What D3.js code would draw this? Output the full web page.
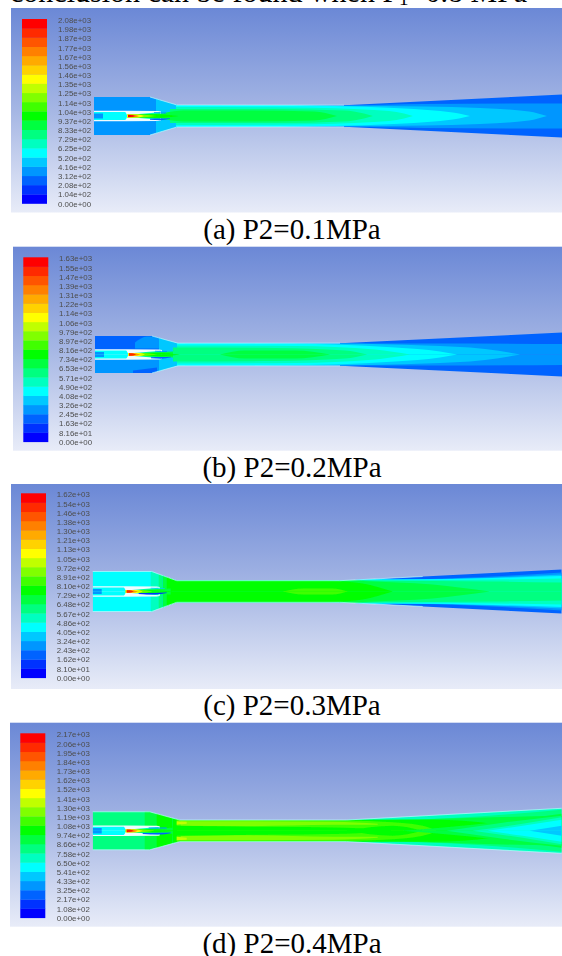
<!DOCTYPE html>
<html>
<head>
    <meta charset="utf-8">
    <title>P2 contours</title>
    <script src="https://d3js.org/d3.v7.min.js"></script>
    <style>
        html, body { margin: 0; padding: 0; background: #fff; overflow: hidden; }
        .caption { font-family: "Liberation Serif", serif; fill: #000; }
        .tick text { font-family: "Liberation Sans", sans-serif; fill: #4d4d4d; }
    </style>
</head>
<body>
    <div id="chart"></div>
    <script>
        // colour bands of the legend, bottom to top
        let bandColors = ["#0000ff", "#0030ff", "#0064ff", "#0096ff", "#00c8ff", "#00ffff", "#00ffc0", "#00ff80", "#00ff40", "#00ff00",
            "#40ff00", "#80ff00", "#c0ff00", "#ffff00", "#ffd200", "#ffaa00", "#ff8000", "#ff5500", "#ff2a00", "#ff0000"];

        let labelsA = ["2.08e+03", "1.98e+03", "1.87e+03", "1.77e+03", "1.67e+03", "1.56e+03", "1.46e+03", "1.35e+03", "1.25e+03", "1.14e+03", "1.04e+03", "9.37e+02", "8.33e+02", "7.29e+02", "6.25e+02", "5.20e+02", "4.16e+02", "3.12e+02", "2.08e+02", "1.04e+02", "0.00e+00"];
        let labelsB = ["1.63e+03", "1.55e+03", "1.47e+03", "1.39e+03", "1.31e+03", "1.22e+03", "1.14e+03", "1.06e+03", "9.79e+02", "8.97e+02", "8.16e+02", "7.34e+02", "6.53e+02", "5.71e+02", "4.90e+02", "4.08e+02", "3.26e+02", "2.45e+02", "1.63e+02", "8.16e+01", "0.00e+00"];
        let labelsC = ["1.62e+03", "1.54e+03", "1.46e+03", "1.38e+03", "1.30e+03", "1.21e+03", "1.13e+03", "1.05e+03", "9.72e+02", "8.91e+02", "8.10e+02", "7.29e+02", "6.48e+02", "5.67e+02", "4.86e+02", "4.05e+02", "3.24e+02", "2.43e+02", "1.62e+02", "8.10e+01", "0.00e+00"];
        let labelsD = ["2.17e+03", "2.06e+03", "1.95e+03", "1.84e+03", "1.73e+03", "1.62e+03", "1.52e+03", "1.41e+03", "1.30e+03", "1.19e+03", "1.08e+03", "9.74e+02", "8.66e+02", "7.58e+02", "6.50e+02", "5.41e+02", "4.33e+02", "3.25e+02", "2.17e+02", "1.08e+02", "0.00e+00"];

        let captions = ["(a) P2=0.1MPa", "(b) P2=0.2MPa", "(c) P2=0.3MPa", "(d) P2=0.4MPa"];

        // duct outline: [axial position, half height]
        let wallA = [[0, 19], [56, 19], [83, 11], [250, 10.8], [468, 21.5]];
        let wallB = [[0, 18.5], [57, 18.5], [83, 11.3], [245, 11.3], [467, 22]];
        let wallC = [[0, 20], [59, 20], [84, 10.8], [247, 10.8], [469, 22]];
        let wallD = [[0, 19], [57, 19], [87, 10.8], [254, 10.8], [469, 22.5]];

        // part of each wall that shows a bright edge
        let edgeA = [[56, 19], [83, 11], [250, 10.8]];
        let edgeB = [[57, 18.5], [83, 11.3], [245, 11.3]];
        let edgeC = [[0, 20], [59, 20], [84, 10.8], [247, 10.8], [330, 15]];
        let edgeD = wallD;

        // contour bands: c = legend band, side = 1 upper / -1 lower (both if missing),
        // pts = [axial position, outer radius, inner radius]
        let fieldA = [
            {c: 3, pts: [[0, 25], [66, 25]]},
            {c: 4, pts: [[62, 25], [90, 25]]},
            {c: 2, pts: [[82, 30], [468, 30]]},
            {c: 3, pts: [[82, 12], [250, 10.6], [330, 12], [468, 12.5]]},
            {c: 4, pts: [[82, 12], [250, 10.3], [330, 9.5], [386, 8], [435, 4.5], [453, 0]]},
            {c: 5, pts: [[82, 12], [240, 10], [300, 8], [340, 5.5], [365, 2.5], [376, 0]]},
            {c: 6, pts: [[82, 9], [200, 8.5], [280, 6], [310, 2.5], [319, 0]]},
            {c: 7, pts: [[76, 7], [180, 7], [250, 5.5], [270, 2.5], [279, 0]]},
            {c: 8, pts: [[70, 3], [90, 5.5], [150, 5.5], [220, 4.5], [243, 0]]}
        ];
        let fieldB = [
            {c: 2, side: 1, pts: [[0, 25], [66, 25]]},
            {c: 3, side: -1, pts: [[0, 25], [66, 25]]},
            {c: 2, side: -1, pts: [[38, 19, 16], [62, 19, 13]]},
            {c: 3, side: 1, pts: [[40, 12, 6], [52, 18, 6], [66, 18, 6]]},
            {c: 4, pts: [[64, 25], [92, 25]]},
            {c: 2, pts: [[90, 30], [467, 30]]},
            {c: 3, pts: [[90, 13], [250, 11], [330, 11], [467, 10.5]]},
            {c: 4, pts: [[90, 13], [245, 11], [330, 9], [390, 5.5], [425, 0]]},
            {c: 5, pts: [[82, 12], [240, 10], [300, 7], [345, 3], [362, 0]]},
            {c: 6, pts: [[82, 9], [200, 8.5], [280, 5], [315, 0]]},
            {c: 7, pts: [[78, 7], [180, 6.5], [250, 4], [272, 0]]},
            {c: 8, pts: [[125, 0], [150, 4], [200, 4], [235, 0]]}
        ];
        let fieldC = [
            {c: 5, pts: [[0, 25], [62, 25]]},
            {c: 6, pts: [[58, 25], [68, 25]]},
            {c: 7, pts: [[66, 25], [74, 25]]},
            {c: 2, pts: [[70, 30], [469, 30]]},
            {c: 3, pts: [[70, 30], [300, 12], [469, 19]]},
            {c: 4, pts: [[70, 30], [300, 12], [469, 17]]},
            {c: 5, pts: [[70, 30], [300, 12], [469, 15.5]]},
            {c: 6, pts: [[70, 30], [290, 11], [469, 13]]},
            {c: 7, pts: [[70, 30], [280, 11], [400, 10], [469, 9]]},
            {c: 8, pts: [[70, 30], [270, 10.5], [340, 7], [397, 0]]},
            {c: 9, pts: [[74, 30], [240, 10.8], [270, 8], [300, 0]]},
            {c: 10, pts: [[190, 0], [210, 3], [240, 3], [255, 0]]}
        ];
        let fieldD = [
            {c: 7, pts: [[0, 25], [58, 25]]},
            {c: 8, pts: [[52, 25], [70, 25]]},
            {c: 9, pts: [[64, 25], [84, 25]]},
            {c: 6, pts: [[80, 30], [469, 30]]},
            {c: 7, pts: [[80, 12], [300, 11], [469, 21]]},
            {c: 8, pts: [[80, 12], [300, 11], [400, 13.5], [469, 15]]},
            {c: 9, pts: [[80, 12], [270, 10.8], [340, 11], [400, 7], [425, 0]]},
            {c: 10, pts: [[84, 11], [260, 10], [290, 9], [330, 5], [345, 0]]},
            {c: 11, pts: [[88, 9.5, 5], [150, 9.5, 4.5], [240, 9, 6], [285, 7, 6]]},
            {c: 12, pts: [[84, 9.5, 6], [94, 9, 7]]},
            {c: 9, pts: [[80, 5], [170, 4], [254, 3], [300, 0]]},
            {c: 9, pts: [[254, 0], [300, 5], [330, 0]]},
            {c: 8, pts: [[310, 0], [380, 6], [469, 17]]},
            {c: 7, pts: [[354, 0], [410, 8], [469, 15]]},
            {c: 6, pts: [[380, 0], [430, 7], [469, 13.5]]},
            {c: 5, pts: [[395, 0], [430, 5], [469, 11]]},
            {c: 4, pts: [[437, 0], [469, 5]]}
        ];

        // primary nozzle and jet
        let nozzleA = [
            {c: 3, pts: [[0, 2.6], [9, 2.6]]},
            {c: 6, pts: [[33, 1], [66, 3.8]]},
            {c: 8, pts: [[34, 1], [78, 3]]},
            {c: 2, side: -1, pts: [[56, 3.8, 2.8], [66, 4.2, 2.6], [76, 2.8, 2.2]]},
            {c: 3, side: 1, pts: [[60, 3.8, 3], [72, 3.4, 2.6]]},
            {c: 9, pts: [[33, 1.3], [62, 1.8], [85, 0]]},
            {c: 11, pts: [[33, 1.4], [50, 1.2], [62, 0]]},
            {c: 13, pts: [[33, 1.6], [44, 1.4], [50, 0]]},
            {c: 16, pts: [[34, 1.6], [41, 1.1], [45, 0]]},
            {c: 19, pts: [[34, 1.1], [37, 1], [41, 0]]}
        ];
        let nozzleB = nozzleA.slice();
        let nozzleC = [
            {c: 3, pts: [[0, 2.6], [9, 2.6]]},
            {c: 6, pts: [[33, 1], [66, 3.8]]},
            {c: 8, pts: [[34, 1], [78, 3]]},
            {c: 1, side: -1, pts: [[46, 2.4, 1.6], [62, 3, 1.2], [74, 1.6, 1]]},
            {c: 4, side: 1, pts: [[58, 3.8, 3], [72, 3.4, 2.8]]},
            {c: 9, pts: [[33, 1.3], [60, 1.2], [80, 0]]},
            {c: 11, pts: [[33, 1.4], [50, 1.2], [60, 0]]},
            {c: 13, pts: [[33, 1.6], [44, 1.4], [50, 0]]},
            {c: 16, pts: [[34, 1.6], [41, 1.1], [45, 0]]},
            {c: 19, pts: [[34, 1.1], [37, 1], [41, 0]]}
        ];
        let nozzleD = [
            {c: 3, pts: [[0, 2.8], [9, 2.8]]},
            {c: 6, pts: [[33, 1], [66, 3.8]]},
            {c: 8, pts: [[34, 1], [80, 3]]},
            {c: 2, side: -1, pts: [[50, 3.2, 2.2], [66, 3.8, 2], [78, 2.4, 1.6]]},
            {c: 3, side: 1, pts: [[56, 3.4, 2.4], [74, 3.4, 2.4]]},
            {c: 9, pts: [[33, 1.3], [60, 1.5], [84, 0]]},
            {c: 11, pts: [[33, 1.4], [50, 1.2], [62, 0]]},
            {c: 13, pts: [[33, 1.6], [44, 1.4], [50, 0]]},
            {c: 16, pts: [[34, 1.6], [41, 1.1], [45, 0]]},
            {c: 19, pts: [[34, 1.1], [37, 1], [41, 0]]}
        ];
        let nozzleWall = [[0, 5.2], [64, 5], [67, 4.6]];
        let nozzleBore = [[0, 4.1], [31, 4.1], [33, 1]];

        // where each panel sits on the page
        let panels = [
            {x: 11, y: 8, h: 204.5, legendX: 22, legendY: 19, labelX: 58, x0: 94, cy: 116, labels: labelsA, wall: wallA, edge: edgeA, field: fieldA, nozzle: nozzleA, capY: 239},
            {x: 13, y: 246.7, h: 204, legendX: 23.3, legendY: 257.3, labelX: 59, x0: 95, cy: 354.5, labels: labelsB, wall: wallB, edge: edgeB, field: fieldB, nozzle: nozzleB, capY: 476.5},
            {x: 11, y: 484, h: 205, legendX: 21, legendY: 493.3, labelX: 56.7, x0: 92.7, cy: 591.5, labels: labelsC, wall: wallC, edge: edgeC, field: fieldC, nozzle: nozzleC, capY: 714.5},
            {x: 10, y: 722.7, h: 204, legendX: 20.3, legendY: 733.3, labelX: 56.7, x0: 92.7, cy: 830.8, labels: labelsD, wall: wallD, edge: edgeD, field: fieldD, nozzle: nozzleD, capY: 953}
        ];

        let width = 562;
        let height = 956;

        let svg = d3.select("#chart").append("svg")
            .attr("width", width)
            .attr("height", height)
            .style("display", "block");

        let defs = svg.append("defs");

        let grad = defs.append("linearGradient")
            .attr("id", "sky")
            .attr("x1", 0).attr("y1", 0).attr("x2", 0).attr("y2", 1);
        grad.append("stop").attr("offset", "0%").attr("stop-color", "#6b88d6");
        grad.append("stop").attr("offset", "50%").attr("stop-color", "#a5b6e4");
        grad.append("stop").attr("offset", "100%").attr("stop-color", "#e8ecf8");

        defs.append("filter").attr("id", "soft").append("feGaussianBlur").attr("stdDeviation", 0.6);
        defs.append("filter").attr("id", "softText").append("feGaussianBlur").attr("stdDeviation", 0.4);

        // line of body text cut off by the top of the page
        let topLine = svg.append("text")
            .attr("class", "caption")
            .attr("x", 10)
            .attr("y", 2)
            .attr("font-size", 30)
            .text("conclusion can be found when P");
        topLine.append("tspan")
            .attr("font-size", 19)
            .attr("dy", 3)
            .text("1");
        topLine.append("tspan")
            .attr("dy", -3)
            .text("=0.8 MPa");

        panels.forEach((p, i) => {
            let g = svg.append("g");

            g.append("rect")
                .attr("x", p.x)
                .attr("y", p.y)
                .attr("width", width - p.x)
                .attr("height", p.h)
                .attr("fill", "url(#sky)");

            // legend bar
            let bands = d3.scaleBand()
                .domain(d3.range(bandColors.length))
                .range([p.legendY + 184.5, p.legendY]);

            g.append("g")
                .attr("filter", "url(#softText)")
                .selectAll("rect")
                .data(bandColors)
                .join("rect")
                .attr("x", p.legendX)
                .attr("y", (d, k) => bands(k))
                .attr("width", 25)
                .attr("height", bands.bandwidth() + 0.3)
                .attr("fill", d => d);

            let labelScale = d3.scalePoint()
                .domain(p.labels)
                .range([p.legendY + 1, p.legendY + 184.5]);

            g.append("g")
                .attr("transform", `translate(${p.labelX},0)`)
                .attr("filter", "url(#softText)")
                .call(d3.axisRight(labelScale).tickSize(0).tickPadding(0))
                .call(a => a.select(".domain").remove())
                .call(a => a.selectAll("text").attr("font-size", 7.9));

            // duct
            let x = d3.scaleLinear().domain([0, 470]).range([p.x0, p.x0 + 470]);
            let y = d3.scaleLinear().domain([-30, 30]).range([p.cy + 30, p.cy - 30]);

            let outline = d3.area()
                .x(d => x(d[0]))
                .y0(d => y(-d[1]))
                .y1(d => y(d[1]));

            let upper = d3.area()
                .curve(d3.curveMonotoneX)
                .x(d => x(d[0]))
                .y0(d => y(d[2] || 0))
                .y1(d => y(d[1]));

            let lower = d3.area()
                .curve(d3.curveMonotoneX)
                .x(d => x(d[0]))
                .y0(d => y(-(d[2] || 0)))
                .y1(d => y(-d[1]));

            defs.append("clipPath")
                .attr("id", "duct" + i)
                .append("path")
                .attr("d", outline(p.wall));

            let duct = g.append("g").attr("filter", "url(#soft)");
            let inner = duct.append("g").attr("clip-path", `url(#duct${i})`);

            function drawBand(parent, band, fill) {
                if (band.side !== -1) {
                    parent.append("path").attr("d", upper(band.pts)).attr("fill", fill);
                }
                if (band.side !== 1) {
                    parent.append("path").attr("d", lower(band.pts)).attr("fill", fill);
                }
            }

            p.field.forEach(b => drawBand(inner, b, bandColors[b.c]));

            // duct edge
            duct.append("path")
                .attr("d", d3.line().x(d => x(d[0])).y(d => y(d[1]))(p.edge))
                .attr("fill", "none").attr("stroke", "#b8ffff").attr("stroke-width", 0.9).attr("stroke-opacity", 0.75);
            duct.append("path")
                .attr("d", d3.line().x(d => x(d[0])).y(d => y(-d[1]))(p.edge))
                .attr("fill", "none").attr("stroke", "#b8ffff").attr("stroke-width", 0.9).attr("stroke-opacity", 0.75);

            // primary nozzle
            drawBand(inner, {pts: nozzleWall}, "#eefcff");
            drawBand(inner, {pts: nozzleBore}, bandColors[5]);
            p.nozzle.forEach(b => drawBand(inner, b, bandColors[b.c]));

            svg.append("text")
                .attr("class", "caption")
                .attr("x", width / 2 + 11)
                .attr("y", p.capY)
                .attr("text-anchor", "middle")
                .attr("font-size", 29)
                .text(captions[i]);
        });
    </script>
</body>
</html>
